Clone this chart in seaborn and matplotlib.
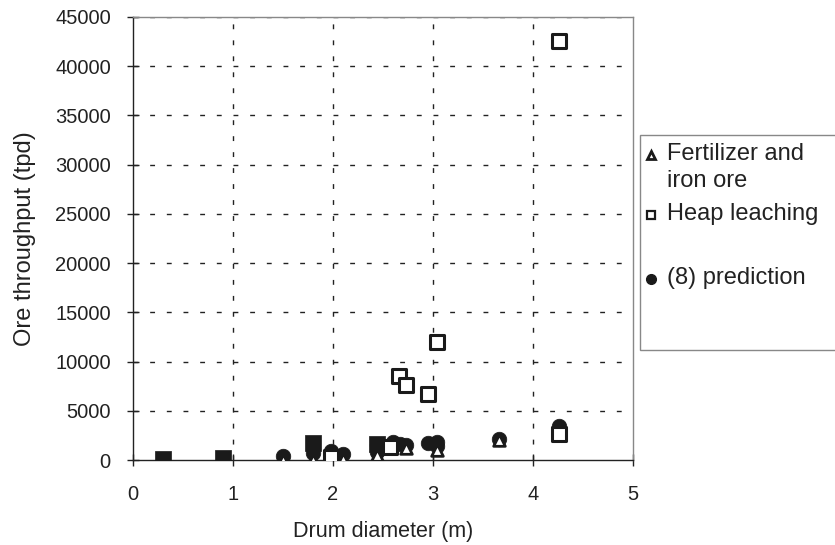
import matplotlib
matplotlib.use("Agg")
import matplotlib.pyplot as plt
import seaborn as sns
import pandas as pd
from matplotlib.lines import Line2D
from matplotlib.patches import Rectangle

sns.set_style("white")
plt.rcParams['font.family'] = ['Liberation Sans', 'DejaVu Sans']

fert_x = [1.5, 1.8, 2.1, 2.44, 2.73, 3.04, 3.66]
fert_y = [50, 50, 100, 500, 1200, 1000, 2000]

heap_x = [4.26, 3.04, 2.66, 2.73, 2.95, 1.98, 2.57, 4.26]
heap_y = [42600, 12000, 8500, 7600, 6700, 300, 1300, 2600]

pred_x = [1.5, 1.8, 1.98, 2.1, 2.44, 2.44, 2.6, 2.67, 2.73, 2.95, 3.04, 3.04, 3.66, 4.26, 4.26]
pred_y = [450, 700, 900, 650, 1500, 800, 1800, 1650, 1500, 1700, 1800, 1400, 2100, 3500, 3100]

other_x = [0.3, 0.9, 1.8, 2.44]
other_y = [100, 250, 1700, 1600]

legend_labels = ["Fertilizer and\niron ore", "Heap leaching", "(8) prediction"]

W, H = 835, 545
fig = plt.figure(figsize=(W / 100, H / 100), dpi=100)
ax = fig.add_axes([133 / W, 1 - 460 / H, 500 / W, 443 / H])

df_p = pd.DataFrame({"x": pred_x, "y": pred_y})
df_f = pd.DataFrame({"x": fert_x, "y": fert_y})
df_h = pd.DataFrame({"x": heap_x, "y": heap_y})
df_o = pd.DataFrame({"x": other_x, "y": other_y})

ink = "#1a1a1a"
sns.scatterplot(data=df_p, x="x", y="y", ax=ax, marker="o", s=110, color=ink,
                edgecolor=ink, linewidth=0.5, zorder=3)
sns.scatterplot(data=df_o, x="x", y="y", ax=ax, marker="s", s=120, color=ink,
                edgecolor=ink, linewidth=0.5, zorder=3)
sns.scatterplot(data=df_f, x="x", y="y", ax=ax, marker="^", s=70, facecolor="white",
                edgecolor=ink, linewidth=2, zorder=4)
sns.scatterplot(data=df_h, x="x", y="y", ax=ax, marker="s", s=95, facecolor="white",
                edgecolor=ink, linewidth=2.2, zorder=4)

ax.set_xlim(0, 5)
ax.set_ylim(0, 45000)
ax.set_xticks([0, 1, 2, 3, 4, 5])
ax.set_yticks(range(0, 45001, 5000))
ax.tick_params(axis='both', labelsize=14.5, colors='#222222', length=8, direction='inout', width=1)
ax.tick_params(axis='y', pad=12)
ax.tick_params(axis='x', pad=14)
ax.tick_params(axis='both', which='both', left=True, bottom=True)
ax.set_xlabel("Drum diameter (m)", fontsize=15.5, color="#222222", labelpad=12)
ax.set_ylabel("Ore throughput (tpd)", fontsize=17, color="#222222", labelpad=14)

for x in [1, 2, 3, 4]:
    ax.axvline(x, color="#222222", linestyle=(0, (3.5, 8)), linewidth=1, zorder=1)
for y in range(5000, 45001, 5000):
    ax.axhline(y, color="#222222", linestyle=(0, (3.5, 8.5)), linewidth=1, zorder=1)

for s in ["left", "bottom"]:
    ax.spines[s].set_color("#222222")
    ax.spines[s].set_linewidth(1)
for s in ["right", "top"]:
    ax.spines[s].set_color("#888888")
    ax.spines[s].set_linewidth(1)

# manual legend box (partially extends past the right edge)
fig.add_artist(Rectangle((640 / W, 1 - 350 / H), 220 / W, 215 / H, transform=fig.transFigure,
                         facecolor="white", edgecolor="#888888", linewidth=1))
text_x = 667 / W
mark_x = 651 / W
fs = 17
fig.add_artist(Line2D([mark_x], [1 - 155 / H], transform=fig.transFigure, marker="^", linestyle="",
                      markerfacecolor="white", markeredgecolor=ink, markeredgewidth=2, markersize=6))
fig.text(text_x, 1 - 154 / H, legend_labels[0].split("\n")[0], fontsize=fs, color="#222222",
         va="center", ha="left")
fig.text(text_x, 1 - 181 / H, legend_labels[0].split("\n")[1], fontsize=fs, color="#222222",
         va="center", ha="left")
fig.add_artist(Line2D([mark_x], [1 - 215 / H], transform=fig.transFigure, marker="s", linestyle="",
                      markerfacecolor="white", markeredgecolor=ink, markeredgewidth=1.6, markersize=6))
fig.text(text_x, 1 - 214 / H, legend_labels[1], fontsize=fs, color="#222222", va="center", ha="left")
fig.add_artist(Line2D([mark_x], [1 - 279 / H], transform=fig.transFigure, marker="o", linestyle="",
                      markerfacecolor=ink, markeredgecolor=ink, markersize=7))
fig.text(text_x, 1 - 278 / H, legend_labels[2], fontsize=fs, color="#222222", va="center", ha="left")

fig.savefig("out.png", dpi=100)
